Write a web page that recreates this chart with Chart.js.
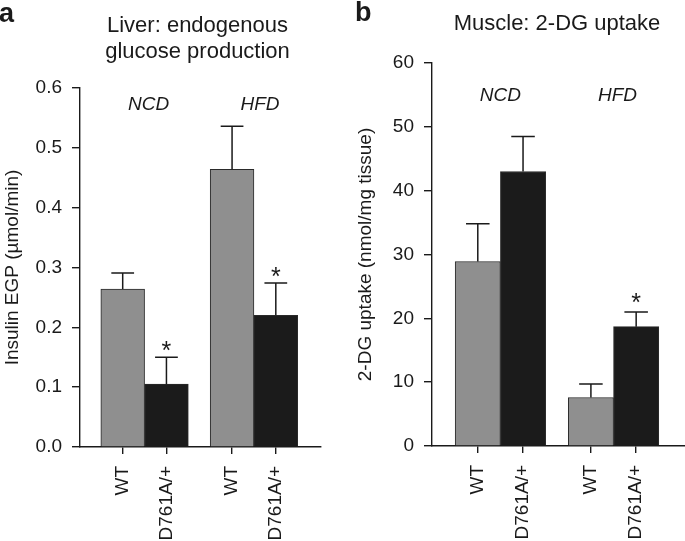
<!DOCTYPE html>
<html>
<head>
<meta charset="utf-8">
<script src="https://cdn.jsdelivr.net/npm/chart.js@4.4.1/dist/chart.umd.min.js"></script>
<style>
  html, body { margin: 0; padding: 0; background: #fff; overflow: hidden; }
  body { width: 685px; height: 541px; position: relative; }
  .panel { position: absolute; top: 0; height: 541px; }
  #panelA { left: 0; width: 342px; }
  #panelB { left: 342px; width: 360px; }
</style>
</head>
<body>
<div class="panel" id="panelA"><canvas id="chartA" width="342" height="541"></canvas></div>
<div class="panel" id="panelB"><canvas id="chartB" width="360" height="541"></canvas></div>
<script>
// ---- data ----
const barLabels = ['WT', 'D761A/+', 'WT', 'D761A/+'];
const groupLabels = ['NCD', 'HFD'];

// a: liver, insulin EGP (µmol/min)
const egpMean = [0.264, 0.105, 0.464, 0.220];
const egpErr  = [0.027, 0.045, 0.072, 0.054];
const egpStar = [false, true, false, true];

// b: muscle, 2-DG uptake (nmol/mg tissue)
const dgMean = [28.9, 43.0, 7.6, 18.7];
const dgErr  = [5.9, 5.5, 2.1, 2.3];
const dgStar = [false, false, false, true];

const barColors = ['#8f8f8f', '#1b1b1b', '#8f8f8f', '#1b1b1b'];
const INK = '#1a1a1a';
const FONT = "'Liberation Sans', Arial, Helvetica, sans-serif";
const GROUP_STEP = 2.5; // distance between the two groups, in bar widths

// x position of each bar: two bars per group, side by side
function barX(i) {
    return Math.floor(i / 2) * GROUP_STEP + (i % 2);
}

// plugin: error bars, asterisks, group labels, panel title and letter
function makeDecor(cfg) {
    return {
        id: 'decor',
        afterDatasetsDraw(chart) {
            const ctx = chart.ctx;
            const yScale = chart.scales.y;
            const bars = chart.getDatasetMeta(0).data;
            const area = chart.chartArea;
            ctx.save();

            // error bars (upper only)
            ctx.strokeStyle = INK;
            ctx.lineWidth = 1.5;
            bars.forEach((bar, i) => {
                const yTop = yScale.getPixelForValue(cfg.mean[i] + cfg.err[i]);
                const half = bar.width * 0.26;
                ctx.beginPath();
                ctx.moveTo(bar.x, bar.y);
                ctx.lineTo(bar.x, yTop);
                ctx.moveTo(bar.x - half, yTop);
                ctx.lineTo(bar.x + half, yTop);
                ctx.stroke();

                if (cfg.star[i]) {
                    ctx.fillStyle = INK;
                    ctx.font = '25px ' + FONT;
                    ctx.textAlign = 'center';
                    ctx.textBaseline = 'alphabetic';
                    ctx.fillText('*', bar.x, yTop - cfg.starGap);
                }
            });

            // group labels (NCD / HFD)
            ctx.fillStyle = INK;
            ctx.font = 'italic 19px ' + FONT;
            ctx.textAlign = 'center';
            ctx.textBaseline = 'middle';
            groupLabels.forEach((g, k) => {
                const x = (bars[2 * k].x + bars[2 * k + 1].x) / 2 + cfg.groupDx[k];
                ctx.fillText(g, x, area.top + cfg.groupDy);
            });

            // title
            ctx.font = '22px ' + FONT;
            ctx.textBaseline = 'alphabetic';
            cfg.title.forEach((line, k) => {
                ctx.fillText(line, cfg.titleX, cfg.titleY + k * 26.6);
            });

            // panel letter
            ctx.font = 'bold 27px ' + FONT;
            ctx.textAlign = 'left';
            ctx.fillText(cfg.letter, cfg.letterX, cfg.letterY);

            ctx.restore();
        }
    };
}

function makeChart(canvasId, cfg) {
    const xs = barLabels.map((_, i) => barX(i));
    return new Chart(document.getElementById(canvasId), {
        type: 'bar',
        data: {
            datasets: [{
                data: cfg.mean.map((v, i) => ({ x: xs[i], y: v })),
                backgroundColor: barColors,
                borderColor: '#2a2a2a',
                borderWidth: 1,
                borderSkipped: 'start',
                barPercentage: 1,
                categoryPercentage: 1
            }]
        },
        options: {
            responsive: false,
            animation: false,
            devicePixelRatio: 1,
            layout: { padding: cfg.padding },
            plugins: { legend: { display: false }, tooltip: { enabled: false } },
            scales: {
                x: {
                    type: 'linear',
                    min: cfg.xMin,
                    max: cfg.xMax,
                    offset: false,
                    afterBuildTicks: (scale) => { scale.ticks = xs.map(v => ({ value: v })); },
                    afterFit: (scale) => { scale.height = cfg.xAxisHeight; },
                    ticks: {
                        callback: (v, i) => barLabels[i],
                        autoSkip: false,
                        minRotation: 90,
                        maxRotation: 90,
                        padding: 12,
                        color: INK,
                        font: { family: FONT, size: 19 }
                    },
                    grid: {
                        offset: false,
                        drawOnChartArea: false,
                        drawTicks: true,
                        tickLength: 7,
                        color: INK,
                        lineWidth: 1.4
                    },
                    border: { display: true, color: INK, width: 1.4 }
                },
                y: {
                    min: 0,
                    max: cfg.yMax,
                    afterFit: (scale) => { scale.width = cfg.yAxisWidth; },
                    ticks: {
                        stepSize: cfg.yStep,
                        callback: cfg.yFormat,
                        padding: 10,
                        color: INK,
                        font: { family: FONT, size: 19 }
                    },
                    grid: {
                        drawOnChartArea: false,
                        drawTicks: true,
                        tickLength: 8,
                        color: INK,
                        lineWidth: 1.4
                    },
                    border: { display: true, color: INK, width: 1.4 },
                    title: {
                        display: true,
                        text: cfg.yTitle,
                        color: INK,
                        font: { family: FONT, size: 19 },
                        padding: { top: cfg.yTitlePad, bottom: 0 }
                    }
                }
            }
        },
        plugins: [makeDecor(cfg)]
    });
}

makeChart('chartA', {
    mean: egpMean, err: egpErr, star: egpStar,
    yMax: 0.6, yStep: 0.1, yFormat: v => v.toFixed(1),
    yTitle: 'Insulin EGP (µmol/min)', yTitlePad: 1.6,
    xMin: -0.976, xMax: 4.533,
    padding: { top: 88, right: 21, bottom: 0, left: 0 },
    yAxisWidth: 80, xAxisHeight: 94,
    title: ['Liver: endogenous', 'glucose production'], titleX: 197.5, titleY: 31.7,
    letter: 'a', letterX: -1, letterY: 22,
    groupDy: 17, groupDx: [4, 6], starGap: -2
});

makeChart('chartB', {
    mean: dgMean, err: dgErr, star: dgStar,
    yMax: 60, yStep: 10, yFormat: v => String(v),
    yTitle: '2-DG uptake (nmol/mg tissue)', yTitlePad: 12.6,
    xMin: -1.012, xMax: 4.955,
    padding: { top: 63, right: 0, bottom: 0, left: 0 },
    yAxisWidth: 90, xAxisHeight: 95,
    title: ['Muscle: 2-DG uptake'], titleX: 215, titleY: 30,
    letter: 'b', letterX: 13, letterY: 20.5,
    groupDy: 33, groupDx: [0, 4], starGap: 1
});
</script>
</body>
</html>
